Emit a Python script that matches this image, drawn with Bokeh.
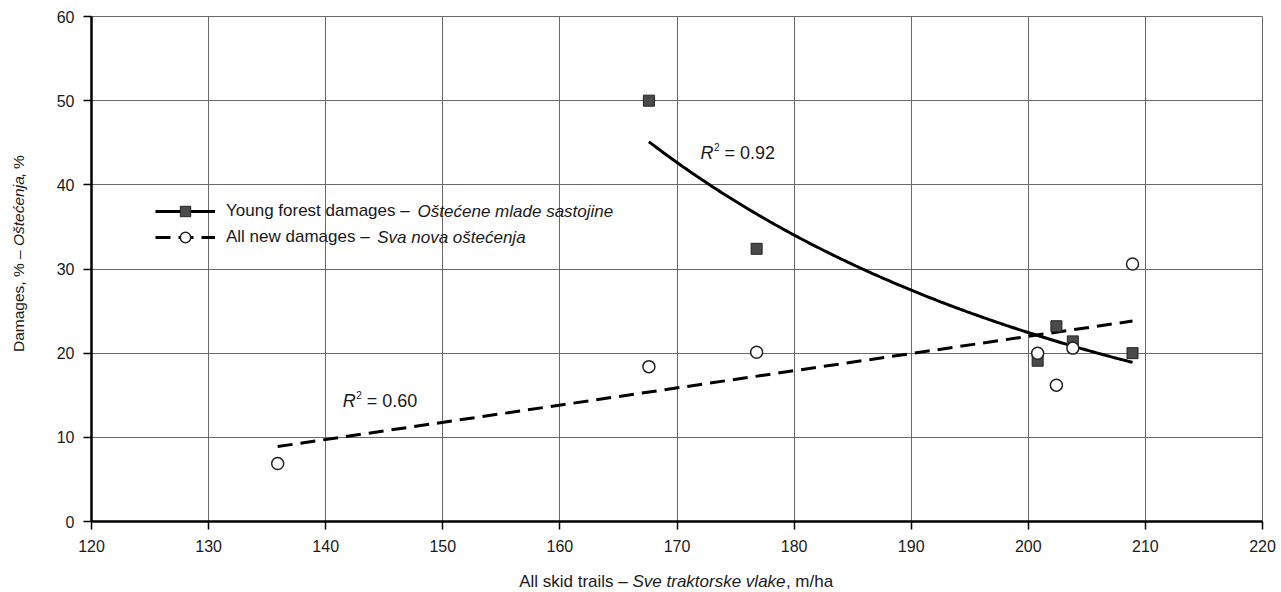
import numpy as np
from bokeh.plotting import figure
from bokeh.layouts import row, column
from bokeh.models import Range1d, SingleIntervalTicker, Legend, LegendItem, Label
from bokeh.embed import file_html
from bokeh.resources import INLINE

# ---- data ----
young_x = [167.6, 176.8, 200.8, 202.4, 203.8, 208.9]
young_y = [50.0, 32.4, 19.1, 23.2, 21.4, 20.0]
all_x = [135.9, 167.6, 176.8, 200.8, 202.4, 203.8, 208.9]
all_y = [6.9, 18.4, 20.1, 20.0, 16.2, 20.6, 30.6]
young_name = ["Young forest damages – ", "Oštećene mlade sastojine"]
all_name = ["All new damages – ", "Sva nova oštećenja"]
x_title = ["All skid trails – ", "Sve traktorske vlake", ", m/ha"]
y_title = ["Damages, % – ", "Oštećenja", ", %"]
r2_young = "0.92"
r2_all = "0.60"

FONT = "Liberation Sans, Arial, sans-serif"
GRID = "#6a6a6a"
TXT = "#1a1a1a"

# ---- trend lines computed from the data ----
yx = np.array(young_x); yy = np.array(young_y)
b, ln_a = np.polyfit(np.log(yx), np.log(yy), 1)
cx = np.linspace(yx.min(), yx.max(), 200)
cy = np.exp(ln_a) * cx ** b

ax = np.array(all_x); ay = np.array(all_y)
m, c = np.polyfit(ax, ay, 1)
lx = np.array([ax.min(), ax.max()])
ly = m * lx + c

xr = Range1d(120, 220)
yr = Range1d(0, 60)

p = figure(width=1241, height=560, output_backend="svg", toolbar_location=None,
           x_range=xr, y_range=yr,
           min_border_left=51, min_border_right=19, min_border_top=16, min_border_bottom=39)
p.background_fill_color = "white"
p.border_fill_color = "white"
p.outline_line_color = GRID
p.outline_line_width = 1

for axis in (p.xaxis[0], p.yaxis[0]):
    axis.axis_line_color = "black"
    axis.axis_line_width = 2.5
    axis.major_tick_line_color = "black"
    axis.major_tick_line_width = 1.5
    axis.major_tick_out = 8
    axis.major_tick_in = 0
    axis.minor_tick_line_color = None
    axis.major_label_text_font = FONT
    axis.major_label_text_font_size = "16px"
    axis.major_label_text_color = TXT
p.xaxis[0].ticker = SingleIntervalTicker(interval=10)
p.yaxis[0].ticker = SingleIntervalTicker(interval=10)
p.xaxis[0].major_label_standoff = 10
p.yaxis[0].major_label_standoff = 9

p.xgrid.grid_line_color = GRID
p.ygrid.grid_line_color = GRID
p.xgrid.grid_line_width = 1
p.ygrid.grid_line_width = 1
p.xgrid.ticker = SingleIntervalTicker(interval=10)
p.ygrid.ticker = SingleIntervalTicker(interval=10)

# lines
l_young = p.line(cx, cy, line_color="black", line_width=3)
l_all = p.line(lx, ly, line_color="black", line_width=3, line_dash="15 8")
# markers
s_young = p.scatter(young_x, young_y, marker="square", size=11, fill_color="#4a4a4a",
                    line_color="#222222", line_width=1)
s_all = p.scatter(all_x, all_y, marker="circle", size=12, fill_color="white",
                  line_color="#222222", line_width=1.5)

legend = Legend(items=[LegendItem(label=young_name[0], renderers=[l_young, s_young]),
                       LegendItem(label=all_name[0], renderers=[l_all, s_all])],
                location=(64, 271), orientation="vertical")
legend.border_line_color = None
legend.background_fill_alpha = 0
legend.padding = 0
legend.margin = 0
legend.spacing = 0
legend.glyph_width = 60
legend.glyph_height = 26
legend.label_height = 26
legend.label_standoff = 11
legend.label_text_font = FONT
legend.label_text_font_size = "17px"
legend.label_text_color = TXT
p.add_layout(legend, "center")


def lab(fig, x, y, text, italic=False, size="16px", angle=0.0, baseline="middle", align="left"):
    fig.add_layout(Label(x=x, y=y, text=text, text_font=FONT, text_font_size=size,
                         text_font_style="italic" if italic else "normal",
                         text_color=TXT, text_baseline=baseline, text_align=align,
                         angle=angle))


# legend italic parts
lab(p, 147.85, 36.82, young_name[1], italic=True, size="17px")
lab(p, 144.4, 33.73, all_name[1], italic=True, size="17px")

# R^2 labels
lab(p, 172.0, 43.8, "R", italic=True, size="18px")
lab(p, 173.15, 44.55, "2", size="10px")
lab(p, 174.05, 43.8, "= " + r2_young, size="18px")
lab(p, 141.45, 14.3, "R", italic=True, size="18px")
lab(p, 142.6, 15.05, "2", size="10px")
lab(p, 143.5, 14.3, "= " + r2_all, size="18px")

# x axis title (mixed styles) in a thin strip below the plot
bottom = figure(width=1241, height=32, output_backend="svg", toolbar_location=None,
                x_range=xr, y_range=Range1d(0, 1), x_axis_type=None, y_axis_type=None,
                min_border_left=51, min_border_right=19, min_border_top=0, min_border_bottom=0)
bottom.outline_line_color = None
bottom.grid.visible = False
lab(bottom, 166.2, 0.33, x_title[0], size="17px", align="right")
lab(bottom, 166.2, 0.33, x_title[1], italic=True, size="17px")
lab(bottom, 179.3, 0.33, x_title[2], size="17px")

# y axis title (rotated, mixed styles) in a thin strip left of the plot
left = figure(width=40, height=592, output_backend="svg", toolbar_location=None,
              x_range=Range1d(0, 1), y_range=yr, x_axis_type=None, y_axis_type=None,
              min_border_left=0, min_border_right=0, min_border_top=16, min_border_bottom=71)
left.outline_line_color = None
left.grid.visible = False
lab(left, 0.45, 32.73, y_title[0], size="15.5px", angle=np.pi / 2, align="right")
lab(left, 0.45, 32.73, y_title[1], italic=True, size="15.5px", angle=np.pi / 2)
lab(left, 0.45, 40.85, y_title[2], size="15.5px", angle=np.pi / 2)

layout = row(left, column(p, bottom, spacing=0), spacing=0)
open("out.html", "w").write(file_html(layout, INLINE))
